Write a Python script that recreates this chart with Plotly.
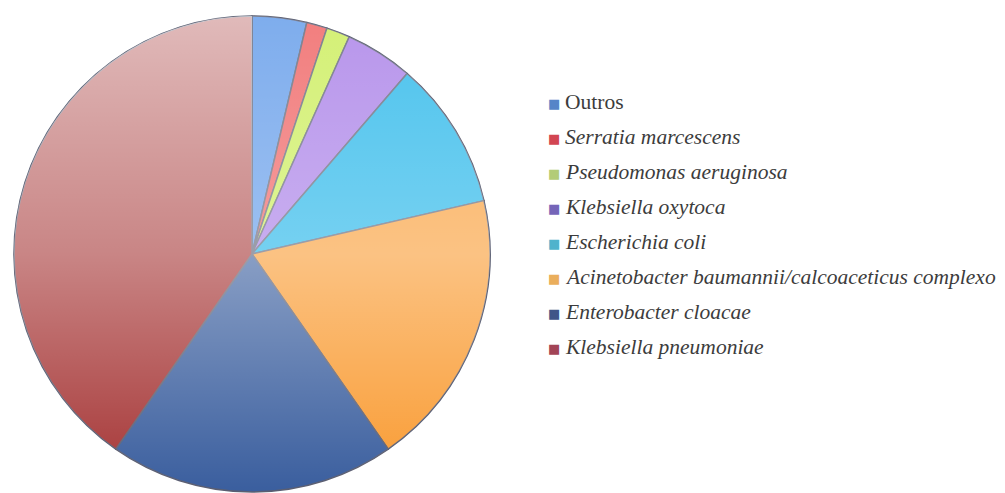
import base64
import plotly.graph_objects as go

# ---- data ----
labels = [
    "Outros",
    "Serratia marcescens",
    "Pseudomonas aeruginosa",
    "Klebsiella oxytoca",
    "Escherichia coli",
    "Acinetobacter baumannii/calcoaceticus complexo",
    "Enterobacter cloacae",
    "Klebsiella pneumoniae",
]
values = [3.7, 1.4, 1.6, 4.6, 10.1, 18.9, 19.4, 40.3]
italic = [False, True, True, True, True, True, True, True]

# ---- style ----
slice_colors = ["#5a96e8", "#ee5a5a", "#c8ec50", "#a478e6", "#1ab2e8",
                "#f99a30", "#3a5e9e", "#a53434"]
legend_colors = ["#5585c8", "#d24652", "#b2cc78", "#7565b8", "#4fb3cc",
                 "#eaae5c", "#3f5688", "#a24456"]
W, H = 1005, 493
cx, cy, r = 252, 254, 238

fig = go.Figure(go.Pie(
    labels=labels,
    values=values,
    sort=False,
    direction="clockwise",
    rotation=0,
    textinfo="none",
    hoverinfo="label+percent",
    marker=dict(colors=slice_colors, line=dict(color="#5a5e72", width=1.5)),
    domain=dict(x=[(cx - r) / W, (cx + r) / W],
                y=[1 - (cy + r) / H, 1 - (cy - r) / H]),
    showlegend=False,
))

# soft vertical light shading over the disc (Office-style gradient fill)
svg = (
    "<svg xmlns='http://www.w3.org/2000/svg' width='400' height='400' viewBox='0 0 400 400'>"
    "<defs>"
    "<clipPath id='c'><circle cx='200' cy='200' r='200'/></clipPath>"
    "<linearGradient id='a' x1='0' y1='0' x2='0' y2='1'>"
    "<stop offset='0' stop-color='#ffffff' stop-opacity='0.66'/>"
    "<stop offset='0.5' stop-color='#ffffff' stop-opacity='0.4'/>"
    "<stop offset='1' stop-color='#ffffff' stop-opacity='0'/>"
    "</linearGradient>"
    "<linearGradient id='b' x1='0' y1='0' x2='0' y2='1'>"
    "<stop offset='0' stop-color='#ffffff' stop-opacity='0.22'/>"
    "<stop offset='0.5' stop-color='#ffffff' stop-opacity='0.4'/>"
    "<stop offset='1' stop-color='#ffffff' stop-opacity='0'/>"
    "</linearGradient>"
    "</defs>"
    "<g clip-path='url(#c)'>"
    "<rect x='0' y='0' width='200' height='400' fill='url(#a)'/>"
    "<rect x='200' y='0' width='200' height='400' fill='url(#b)'/>"
    "</g></svg>"
)
uri = "data:image/svg+xml;base64," + base64.b64encode(svg.encode()).decode()
fig.add_layout_image(
    source=uri, xref="paper", yref="paper",
    x=(cx - r) / W, y=1 - (cy - r) / H, sizex=2 * r / W, sizey=2 * r / H,
    xanchor="left", yanchor="top", sizing="stretch", layer="above",
)

# legend drawn from the label list
y0, dy = 102, 35
for i, (lab, col, it) in enumerate(zip(labels, legend_colors, italic)):
    ypx = y0 + i * dy
    fig.add_annotation(
        x=554 / W, y=1 - (ypx + 1) / H, xref="paper", yref="paper",
        text="■", showarrow=False, xanchor="center", yanchor="middle",
        font=dict(size=13, color=col, family="DejaVu Sans"),
    )
    fig.add_annotation(
        x=563 / W, y=1 - ypx / H, xref="paper", yref="paper",
        text=f"<i>{lab}</i>" if it else lab,
        showarrow=False, xanchor="left", yanchor="middle",
        font=dict(size=21.5, color="#3c3c3c", family="Liberation Serif"),
    )

fig.update_layout(
    width=W, height=H,
    margin=dict(l=0, r=0, t=0, b=0),
    paper_bgcolor="white", plot_bgcolor="white",
)

fig.write_html("out.html", config={"displayModeBar": False},
               post_script="document.body.style.margin='0';")
